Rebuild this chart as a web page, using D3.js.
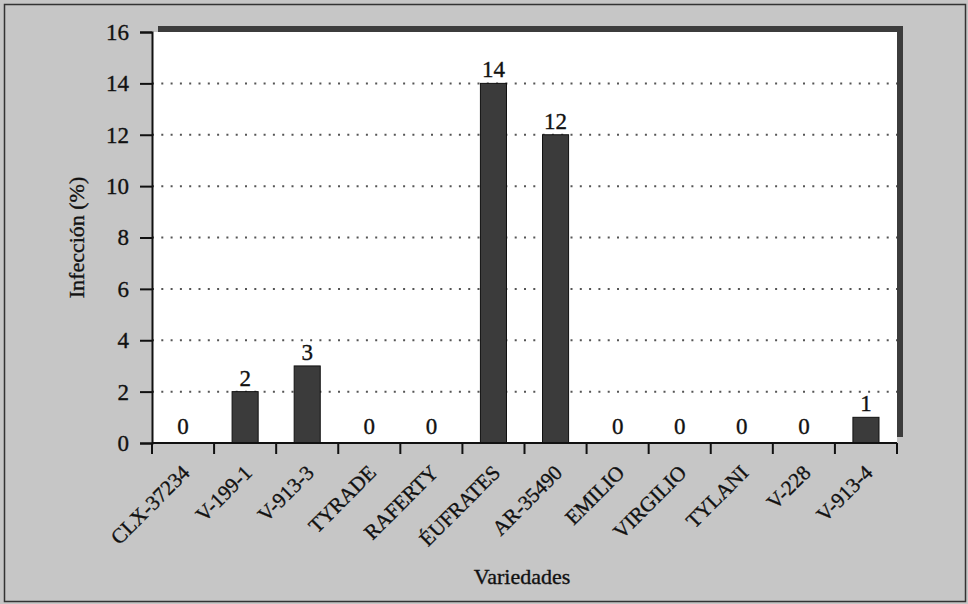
<!DOCTYPE html>
<html>
<head>
<meta charset="utf-8">
<script src="https://cdn.jsdelivr.net/npm/d3@7"></script>
<style>
  body { margin: 0; background: #fff; }
  svg { display: block; }
  text { font-family: "Liberation Serif", "Times New Roman", serif; fill: #111; stroke: #111; stroke-width: 0.35px; }
</style>
</head>
<body>
<svg id="chart" width="968" height="604"></svg>
<script>
var variedades = ["CLX-37234", "V-199-1", "V-913-3", "TYRADE", "RAFERTY", "ÉUFRATES",
                  "AR-35490", "EMILIO", "VIRGILIO", "TYLANI", "V-228", "V-913-4"];
var infeccion = [0, 2, 3, 0, 0, 14, 12, 0, 0, 0, 0, 1];
var yTicks = [0, 2, 4, 6, 8, 10, 12, 14, 16];

var svg = d3.select("#chart");

// fondo gris con marco
svg.append("rect").attr("x", 0).attr("y", 0).attr("width", 968).attr("height", 604).attr("fill", "#c6c6c6");
svg.append("rect").attr("x", 4.5).attr("y", 4.5).attr("width", 961).attr("height", 597)
    .attr("fill", "none").attr("stroke", "#333").attr("stroke-width", 1.5);

var margin = {left: 152, top: 32, right: 71, bottom: 161};
var w = 968 - margin.left - margin.right,
    h = 604 - margin.top - margin.bottom;

var x = d3.scaleBand().domain(variedades).range([0, w]).paddingInner(0.58).paddingOuter(0.29);
var xb = d3.scaleBand().domain(variedades).range([0, w]);
var y = d3.scaleLinear().domain([0, 16]).range([h, 0]);

var g = svg.append("g").attr("transform", "translate(" + margin.left + "," + margin.top + ")");

/* sombra del area de trazado */
g.append("rect").attr("x", 6).attr("y", -6).attr("width", w).attr("height", h)
    .attr("fill", "#3c3c3c");
g.append("rect").attr("x", 0).attr("y", 0).attr("width", w).attr("height", h)
    .attr("fill", "#fff");

// lineas de rejilla punteadas
g.selectAll(".grid")
    .data(yTicks.filter(function(d) { return d > 0 && d < 16; }))
    .enter().append("line")
    .attr("x1", 0).attr("x2", w)
    .attr("y1", function(d) { return y(d); })
    .attr("y2", function(d) { return y(d); })
    .attr("stroke", "#555")
    .attr("stroke-width", 2)
    .attr("stroke-dasharray", "2,7.3");

// barras
g.selectAll(".bar")
    .data(infeccion)
    .enter().append("rect")
    .attr("x", function(d, i) { return x(variedades[i]); })
    .attr("y", function(d) { return y(d); })
    .attr("width", x.bandwidth())
    .attr("height", function(d) { return h - y(d); })
    .attr("fill", "#3b3b3b")
    .attr("stroke", "#111")
    .attr("stroke-width", 1);

// etiquetas de valor
g.selectAll(".val")
    .data(infeccion)
    .enter().append("text")
    .attr("x", function(d, i) { return x(variedades[i]) + x.bandwidth() / 2; })
    .attr("y", function(d) { return d === 0 ? h - 9 : y(d) - 6; })
    .attr("text-anchor", "middle")
    .style("font-size", "23px")
    .text(function(d) { return d; });

// eje Y
var yAxis = g.append("g")
    .call(d3.axisLeft(y).tickValues(yTicks).tickSize(12).tickPadding(11));
yAxis.select(".domain").attr("stroke", "#111").attr("stroke-width", 2);
yAxis.selectAll(".tick line").attr("stroke", "#111").attr("stroke-width", 2);
yAxis.selectAll(".tick text").style("font-size", "23px").style("font-family", "Liberation Serif, serif")
    .attr("fill", "#111").attr("stroke", "#111").attr("stroke-width", 0.5);

// eje X con marcas en los limites de categoria
var xAxis = g.append("g").attr("transform", "translate(0," + h + ")");
xAxis.append("line").attr("x1", 0).attr("x2", w).attr("stroke", "#111").attr("stroke-width", 2);
xAxis.selectAll(".xt")
    .data(variedades.concat([null]))
    .enter().append("line")
    .attr("x1", function(d, i) { return i < variedades.length ? xb(d) : w; })
    .attr("x2", function(d, i) { return i < variedades.length ? xb(d) : w; })
    .attr("y1", 0).attr("y2", 11)
    .attr("stroke", "#111").attr("stroke-width", 2);
xAxis.selectAll(".xl")
    .data(variedades)
    .enter().append("text")
    .attr("text-anchor", "end")
    .attr("transform", function(d) {
        return "translate(" + (xb(d) + xb.bandwidth() / 2 + 8) + ",31) rotate(-45)";
    })
    .style("font-size", "21px")
    .text(function(d) { return d; });

// titulos
svg.append("text")
    .attr("transform", "translate(84," + (margin.top + h / 2) + ") rotate(-90)")
    .attr("text-anchor", "middle")
    .style("font-size", "22px")
    .text("Infección (%)");
svg.append("text")
    .attr("x", 522).attr("y", 584)
    .attr("text-anchor", "middle")
    .style("font-size", "22px")
    .text("Variedades");
</script>
</body>
</html>
